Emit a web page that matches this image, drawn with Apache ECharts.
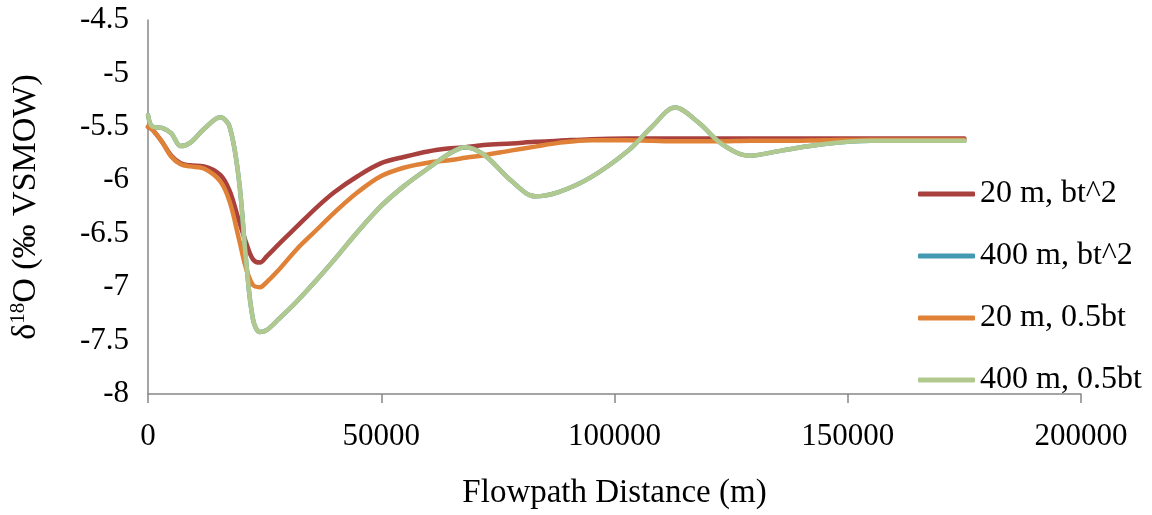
<!DOCTYPE html>
<html>
<head>
<meta charset="utf-8">
<script src="https://cdn.jsdelivr.net/npm/echarts@6/dist/echarts.min.js"></script>
<style>
  html, body { margin: 0; padding: 0; background: #fff; }
  #chart { width: 1152px; height: 515px; }
</style>
</head>
<body>
<div id="chart"></div>
<script>
// Flowpath distance (m) at which each δ18O value is sampled
const distance = [0, 1000, 3000, 5000, 7000, 9000, 12000, 15500, 17500, 19500, 21000, 22500, 24000, 25500,
  28000, 32000, 36000, 40000, 45000, 50000, 55000, 60000, 65000, 68000, 72000, 78000, 83000, 88000,
  95000, 103000, 108000, 113000, 118000, 123000, 129000, 136000, 145000, 155000, 165000, 175000];

// δ18O (‰ VSMOW) for each scenario
const d20bt2 = [-5.50, -5.53, -5.64, -5.77, -5.84, -5.86, -5.87, -5.95, -6.10, -6.38, -6.58, -6.74, -6.77, -6.71,
  -6.60, -6.43, -6.26, -6.11, -5.96, -5.84, -5.78, -5.73, -5.70, -5.69, -5.67, -5.655, -5.64, -5.63,
  -5.615, -5.61, -5.61, -5.61, -5.61, -5.61, -5.61, -5.61, -5.61, -5.61, -5.61, -5.61];
const d400bt2 = [-5.39, -5.50, -5.51, -5.56, -5.68, -5.65, -5.52, -5.41, -5.50, -6.00, -6.74, -7.30, -7.42, -7.40,
  -7.30, -7.13, -6.94, -6.74, -6.48, -6.24, -6.05, -5.89, -5.74, -5.69, -5.76, -6.01, -6.15, -6.11,
  -5.97, -5.72, -5.50, -5.32, -5.46, -5.66, -5.77, -5.72, -5.66, -5.63, -5.63, -5.63];
const d20half = [-5.50, -5.53, -5.64, -5.78, -5.85, -5.87, -5.89, -6.01, -6.20, -6.55, -6.82, -6.98, -7.00, -6.95,
  -6.84, -6.64, -6.47, -6.30, -6.11, -5.96, -5.88, -5.835, -5.81, -5.79, -5.765, -5.72, -5.685, -5.65,
  -5.625, -5.625, -5.63, -5.635, -5.635, -5.635, -5.63, -5.63, -5.625, -5.62, -5.62, -5.62];
const d400half = [-5.39, -5.50, -5.51, -5.56, -5.68, -5.65, -5.52, -5.41, -5.50, -6.00, -6.74, -7.30, -7.42, -7.40,
  -7.30, -7.13, -6.94, -6.74, -6.48, -6.24, -6.05, -5.89, -5.74, -5.69, -5.76, -6.01, -6.15, -6.11,
  -5.97, -5.72, -5.50, -5.32, -5.46, -5.66, -5.77, -5.72, -5.66, -5.63, -5.63, -5.63];

const seriesNames = ['20 m, bt^2', '400 m, bt^2', '20 m, 0.5bt', '400 m, 0.5bt'];
const seriesValues = [d20bt2, d400bt2, d20half, d400half];
const seriesColors = ['#A8413E', '#4399B0', '#DF8237', '#B1C98E'];

const FONT = "'Liberation Serif', 'Times New Roman', serif";
const AXIS_GRAY = '#878787';

const chart = echarts.init(document.getElementById('chart'), null, { renderer: 'canvas' });

const series = seriesNames.map((name, i) => ({
  name: name,
  type: 'line',
  data: distance.map((d, k) => [d, seriesValues[i][k]]),
  smooth: 0.35,
  showSymbol: false,
  symbol: 'none',
  lineStyle: { color: seriesColors[i], width: 4.5, cap: 'round', join: 'round' },
  itemStyle: { color: seriesColors[i] },
  emphasis: { disabled: true },
  animation: false,
  z: 2 + i
}));

chart.setOption({
  animation: false,
  backgroundColor: '#fff',
  grid: { left: 147, right: 71, top: 20, bottom: 113, containLabel: false },
  legend: {
    orient: 'vertical',
    left: 913,
    top: 158,
    itemWidth: 57,
    itemHeight: 5,
    itemGap: 0,
    icon: 'roundRect',
    data: seriesNames.map((n, i) => ({ name: n, itemStyle: { color: seriesColors[i] } })),
    textStyle: { fontFamily: FONT, fontSize: 32, color: '#000', lineHeight: 62 },
    selectedMode: false
  },
  xAxis: {
    type: 'value',
    min: 0,
    max: 200000,
    interval: 50000,
    name: 'Flowpath Distance (m)',
    nameLocation: 'middle',
    nameGap: 83,
    nameTextStyle: { fontFamily: FONT, fontSize: 33, color: '#000' },
    axisLine: { show: true, onZero: false, lineStyle: { color: AXIS_GRAY, width: 1.5 } },
    axisTick: { show: true, length: 9, lineStyle: { color: AXIS_GRAY, width: 1.5 } },
    axisLabel: { fontFamily: FONT, fontSize: 31, color: '#000', margin: 27, formatter: v => String(v) },
    splitLine: { show: false }
  },
  yAxis: {
    type: 'value',
    min: -8,
    max: -4.5,
    interval: 0.5,
    name: 'δ{sup|18}O (‰ VSMOW)',
    nameLocation: 'middle',
    nameGap: 104,
    nameRotate: 90,
    nameTextStyle: {
      fontFamily: FONT, fontSize: 34, color: '#000',
      rich: {
        sup: { fontFamily: FONT, fontSize: 21, color: '#000', verticalAlign: 'top', padding: [0, 0, 15, 0] }
      }
    },
    axisLine: { show: true, onZero: false, lineStyle: { color: AXIS_GRAY, width: 1.5 } },
    axisTick: { show: false },
    axisLabel: { fontFamily: FONT, fontSize: 31, color: '#000', margin: 19, formatter: v => String(v) },
    splitLine: { show: false }
  },
  series: series
});
</script>
</body>
</html>
